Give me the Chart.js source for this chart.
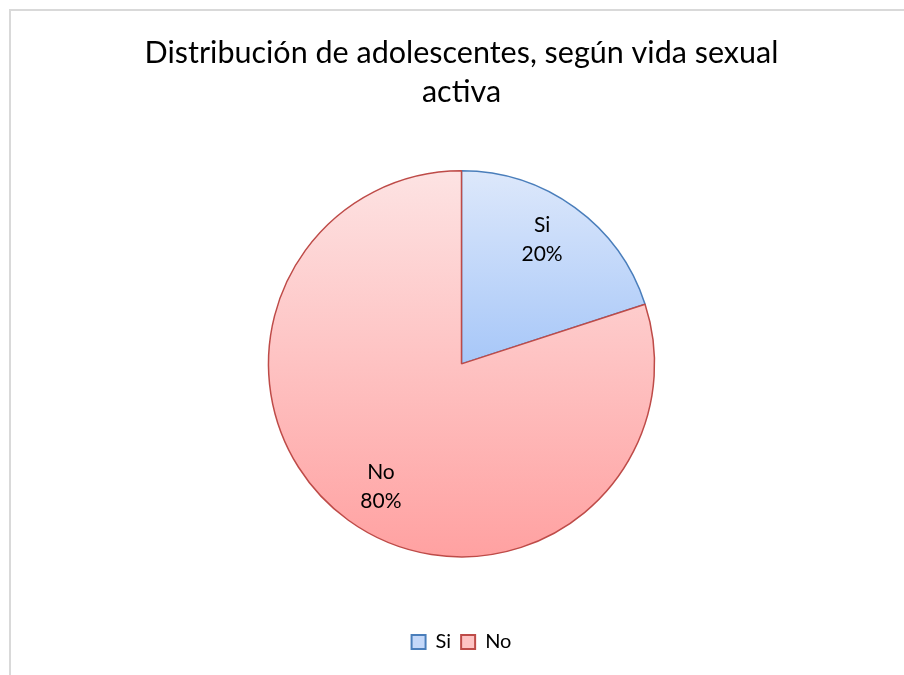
<!DOCTYPE html>
<html>
<head>
<meta charset="utf-8">
<script src="https://cdn.jsdelivr.net/npm/chart.js@4"></script>
<style>
  body { margin: 0; background: #fff; }
  canvas { display: block; }
</style>
</head>
<body>
<canvas id="pie" width="904" height="675"></canvas>
<script>
const categories = ['Si', 'No'];
const values = [20, 80];
const titleLines = ['Distribución de adolescentes, según vida sexual', 'activa'];

const fontName = 'Lato, "Open Sans", sans-serif';
const topColors = ['#dde8fb', '#fde3e3'];
const bottomColors = ['#a7c7f8', '#ffa1a1'];
const legendColors = ['#c4d8f9', '#fec3c3'];
const edgeColors = ['#4a7ebb', '#be4b48'];

// vertical gradient across each slice, light at the top
function sliceFill(context) {
  const chart = context.chart;
  const area = chart.chartArea;
  if (!area) return topColors[context.dataIndex];
  const cy = (area.top + area.bottom) / 2;
  const r = Math.min(area.width, area.height) / 2;
  const i = context.dataIndex;
  const y0 = cy - r;
  const y1 = i === 0 ? cy : cy + r;
  const g = chart.ctx.createLinearGradient(0, y0, 0, y1);
  g.addColorStop(0, topColors[i]);
  g.addColorStop(1, bottomColors[i]);
  return g;
}

const frame = {
  id: 'frame',
  beforeDraw(chart) {
    const ctx = chart.ctx;
    ctx.save();
    ctx.fillStyle = '#fff';
    ctx.fillRect(0, 0, chart.width, chart.height);
    ctx.strokeStyle = '#d9d9d9';
    ctx.lineWidth = 2;
    ctx.strokeRect(10, 10, chart.width + 20, chart.height + 20);
    ctx.restore();
  }
};

const sliceLabels = {
  id: 'sliceLabels',
  afterDatasetsDraw(chart) {
    const ctx = chart.ctx;
    const total = values.reduce((a, b) => a + b, 0);
    chart.getDatasetMeta(0).data.forEach((arc, i) => {
      const p = arc.getProps(['x', 'y', 'startAngle', 'endAngle', 'outerRadius'], true);
      const mid = (p.startAngle + p.endAngle) / 2;
      const x = p.x + Math.cos(mid) * p.outerRadius * 0.71;
      const y = p.y + Math.sin(mid) * p.outerRadius * 0.79;
      ctx.save();
      ctx.fillStyle = '#000';
      ctx.font = '21px ' + fontName;
      ctx.textAlign = 'center';
      ctx.textBaseline = 'middle';
      ctx.fillText(categories[i], x, y - 15);
      ctx.fillText(Math.round(values[i] / total * 100) + '%', x, y + 14);
      ctx.restore();
    });
  }
};

new Chart(document.getElementById('pie'), {
  type: 'pie',
  data: {
    labels: categories,
    datasets: [{
      data: values,
      backgroundColor: sliceFill,
      borderColor: edgeColors,
      borderWidth: 1.5
    }]
  },
  options: {
    responsive: false,
    animation: false,
    layout: { padding: { left: 19, right: 0, top: 0, bottom: 13 } },
    plugins: {
      title: {
        display: true,
        text: titleLines,
        color: '#000',
        font: { family: fontName, size: 30.5, weight: 'normal', lineHeight: 1.28 },
        padding: { top: 34, bottom: 58 }
      },
      legend: {
        position: 'bottom',
        title: { display: true, text: '', padding: { top: 50, bottom: 0 }, font: { size: 12 } },
        labels: {
          color: '#000',
          font: { family: fontName, size: 20 },
          boxWidth: 14,
          boxHeight: 14,
          padding: 10,
          generateLabels(chart) {
            return categories.map((c, i) => ({
              text: c,
              fillStyle: legendColors[i],
              strokeStyle: edgeColors[i],
              fontColor: '#000',
              lineWidth: 2,
              index: i,
              datasetIndex: 0
            }));
          }
        }
      },
      tooltip: { enabled: false }
    }
  },
  plugins: [frame, sliceLabels]
});
</script>
</body>
</html>
